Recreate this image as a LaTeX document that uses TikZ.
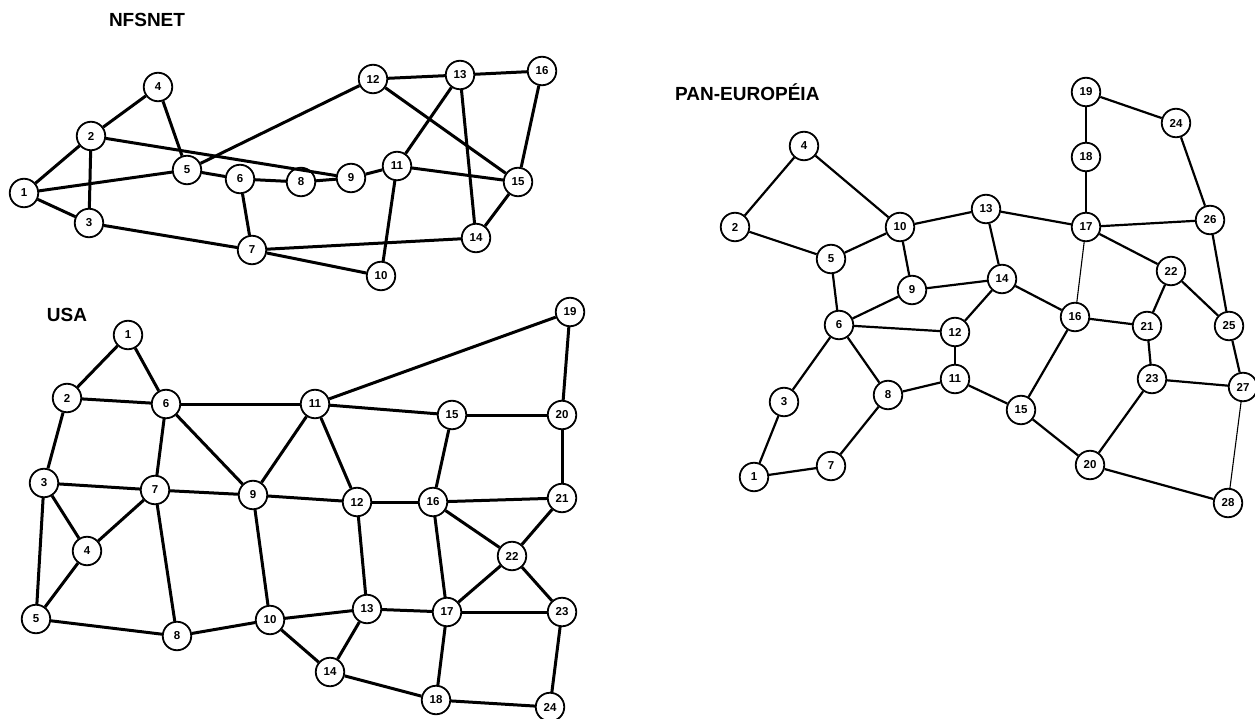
\documentclass[tikz,border=0pt]{standalone}
\usepackage{fontspec}
\setmainfont{Liberation Sans}
\begin{document}
\begin{tikzpicture}[x=1pt,y=-1pt,
  vtx/.style={circle, draw, line width=1.8pt, fill=white, minimum size=28.5pt,
    inner sep=0pt, font=\bfseries\fontsize{11.5}{11.5}\selectfont},
  heavy/.style={line width=3pt},
  medium/.style={line width=2.2pt},
  light/.style={line width=1.1pt},
  ttl/.style={font=\bfseries\fontsize{19}{19}\selectfont, inner sep=0pt}]
\useasboundingbox (0,0) rectangle (1255,719);

% ---------------- NFSNET ----------------
\node[ttl] (tn) at (147,20) {NFSNET};
\foreach \n/\x/\y in {1/24/193, 2/91/136, 3/89/223, 4/158/87, 5/187/170,
  6/240/179, 7/252/250, 8/301/182, 9/351/178, 10/381/276, 11/397/166,
  12/373/79, 13/460/75, 14/476/238, 15/518/182, 16/542/71}
  \node[vtx] (n\n) at (\x,\y) {\n};
\foreach \a/\b in {1/2, 1/3, 1/5, 2/3, 2/4, 2/9, 4/5, 5/12, 5/6, 6/8, 8/9,
  9/11, 6/7, 3/7, 7/14, 7/10, 11/10, 11/13, 11/15, 12/13, 12/15, 13/16,
  13/14, 16/15, 15/14}
  \draw[heavy] (n\a) -- (n\b);

% ---------------- USA ----------------
\node[ttl] (tu) at (67,315) {USA};
\foreach \n/\x/\y in {1/128/335, 2/67/398, 3/44/483, 4/87/551, 5/36/619,
  6/166/404, 7/155/490, 8/177/636, 9/253/495, 10/270/620, 11/315/404,
  12/357/502, 13/367/609, 14/330/672, 15/452/415, 16/433/502, 17/447/612,
  18/436/700, 19/570/312, 20/562/415, 21/562/498, 22/512/556, 23/562/612,
  24/550/707}
  \node[vtx] (u\n) at (\x,\y) {\n};
\foreach \a/\b in {1/2, 1/6, 2/6, 2/3, 3/7, 3/4, 3/5, 4/7, 4/5, 5/8, 6/7,
  6/11, 6/9, 7/9, 7/8, 9/11, 9/12, 9/10, 8/10, 10/13, 10/14, 11/12, 11/15,
  11/19, 12/16, 12/13, 13/14, 13/17, 14/18, 15/20, 15/16, 16/21, 16/22,
  16/17, 17/22, 17/23, 17/18, 18/24, 19/20, 20/21, 21/22, 22/23, 23/24}
  \draw[heavy] (u\a) -- (u\b);

% ---------------- PAN-EUROPÉIA ----------------
\node[ttl, anchor=west] (tp) at (675,92) {PAN-EUROPÉIA};
\foreach \n/\x/\y in {1/754/477, 2/735/227, 3/784/402, 4/804/146, 5/831/259,
  6/839/325, 7/831/466, 8/888/395, 9/912/290, 10/900/227, 11/955/379,
  12/955/332, 13/986/209, 14/1002/279, 15/1021/410, 16/1075/317,
  17/1086/227, 18/1086/157, 19/1086/92, 20/1090/465, 21/1147/326,
  22/1171/271, 23/1152/379, 24/1176/123, 25/1229/326, 26/1210/220,
  27/1243/387, 28/1228/503}
  \node[vtx] (p\n) at (\x,\y) {\n};
\foreach \a/\b in {4/2, 4/10, 2/5, 5/10, 5/6, 10/13, 10/9, 13/17, 13/14,
  9/14, 9/6, 14/12, 14/16, 6/12, 6/3, 6/8, 12/11, 11/8, 11/15, 8/7, 3/1,
  1/7, 15/16, 15/20, 16/21, 17/18, 18/19, 19/24, 24/26, 17/26, 17/22,
  22/21, 22/25, 26/25, 21/23, 23/27, 23/20, 25/27, 20/28}
  \draw[medium] (p\a) -- (p\b);
\draw[light] (p16) -- (p17);
\draw[light] (p27) -- (p28);
\end{tikzpicture}
\end{document}
